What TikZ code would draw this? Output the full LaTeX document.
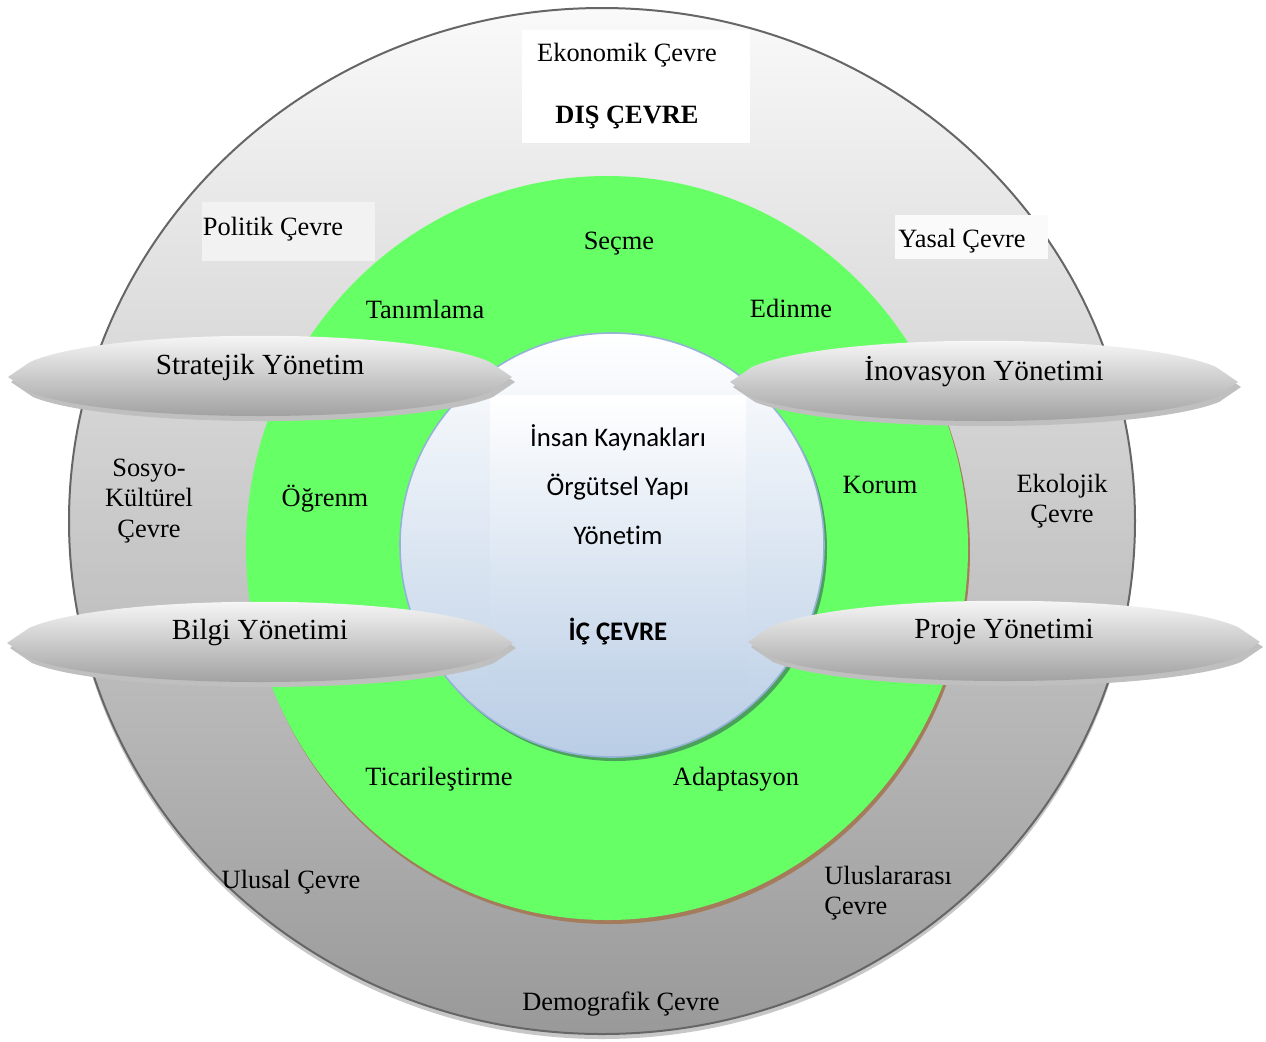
\documentclass[tikz,border=0pt]{standalone}
\usepackage{fontspec}
\setmainfont{Liberation Serif}
\newfontfamily\calfont[Ligatures=NoCommon]{Carlito}
\usepackage{tikz}
\usetikzlibrary{backgrounds,calc}
\definecolor{ringgreen}{RGB}{102,255,102}
\definecolor{ringbrown}{RGB}{165,124,91}
\definecolor{icblue}{RGB}{185,205,229}
\definecolor{icline}{RGB}{149,179,215}
\definecolor{icshadow}{RGB}{75,160,90}

\begin{document}
\begin{tikzpicture}[x=0.5pt,y=-0.5pt,
  lbl/.style={font=\fontsize{13.2}{15.3}\selectfont, align=center, inner sep=0pt},
  inlbl/.style={font=\calfont\fontsize{13.4}{16}\selectfont, inner sep=0pt},
  bandlbl/.style={font=\fontsize{14.6}{17}\selectfont, inner sep=0pt}]
\useasboundingbox (0,0) rectangle (1266,1041);
% dis cevre
\fill[black!22] (602,526) ellipse [x radius=533, y radius=513];
\shade[top color=black!2, bottom color=black!40, draw=black!60, line width=1pt]
  (602,521) ellipse [x radius=533, y radius=513];
% surec halkasi
\fill[ringbrown] (609,552) ellipse [x radius=361, y radius=372];
\fill[ringgreen] (607,548) ellipse [x radius=361, y radius=372];
% ic cevre
\fill[icshadow] (615,549) circle [radius=212];
\shade[top color=white, bottom color=icblue, draw=icline, line width=0.8pt]
  (612,545) circle [radius=212];
\shade[top color=white, bottom color=icblue!85!white] (490,395) rectangle (746,685);
% metin kutulari
\fill[white] (522,30) rectangle (750,143);
\fill[black!5] (202,202) rectangle (375,261);
\fill[black!2] (895,215) rectangle (1048,259);
% yonetim bantlari
\foreach \cx/\cy/\w/\nm/\txt in {260/377/252/strat/Stratejik Yönetim,
    984/382/254/inov/İnovasyon Yönetimi,
    260/643/253/bilgi/Bilgi Yönetimi,
    1004/642/256/proje/Proje Yönetimi}{
  \begin{scope}[shift={(\cx,\cy)}]
    \fill[black!25] (-\w+3,5) -- (-\w+25,-10) .. controls (-0.6*\w+3,-45) and (0.6*\w+3,-45) .. (\w-19,-10)
      -- (\w+3,5) -- (\w-19,20) .. controls (0.6*\w+3,52) and (-0.6*\w+3,52) .. (-\w+25,20) -- cycle;
    \shade[top color=white, middle color=black!9, bottom color=black!40]
      (-\w,0) -- (-\w+22,-15) .. controls (-0.6*\w,-50) and (0.6*\w,-50) .. (\w-22,-15)
      -- (\w,0) -- (\w-22,15) .. controls (0.6*\w,47) and (-0.6*\w,47) .. (-\w+22,15) -- cycle;
  \end{scope}
  \node[bandlbl] (\nm) at (\cx,\cy-10) {\txt};
}
% dis cevre etiketleri
\node[lbl] (ekon) at (627,55) {Ekonomik Çevre};
\node[lbl] (dis) at (627,117) {\bfseries DIŞ ÇEVRE};
\node[lbl] (polit) at (273,229) {Politik Çevre};
\node[lbl] (yasal) at (962,241) {Yasal Çevre};
\node[lbl] (sosyo) at (149,501) {Sosyo-\\Kültürel\\Çevre};
\node[lbl] (ekol) at (1062,501) {Ekolojik\\Çevre};
\node[lbl] (ulusal) at (291,882) {Ulusal Çevre};
\node[lbl, align=left, anchor=west] (ulusl) at (824,893) {Uluslararası\\Çevre};
\node[lbl] (demog) at (621,1004) {Demografik Çevre};
% surec etiketleri
\node[lbl] (secme) at (619,244) {Seçme};
\node[lbl] (tanim) at (425,309) {Tanımlama};
\node[lbl] (edin) at (791,308) {Edinme};
\node[lbl] (ogren) at (325,499) {Öğrenm};
\node[lbl] (korum) at (880,485) {Korum};
\node[lbl] (ticari) at (439,779) {Ticarileştirme};
\node[lbl] (adapt) at (736,779) {Adaptasyon};
% ic cevre etiketleri
\node[inlbl] (insan) at (618,438) {İnsan Kaynakları};
\node[inlbl] (orgut) at (618,487) {Örgütsel Yapı};
\node[inlbl] (yonet) at (618,535) {Yönetim};
\node[inlbl] (ic) at (618,632) {\bfseries İÇ ÇEVRE};
\end{tikzpicture}
\end{document}
